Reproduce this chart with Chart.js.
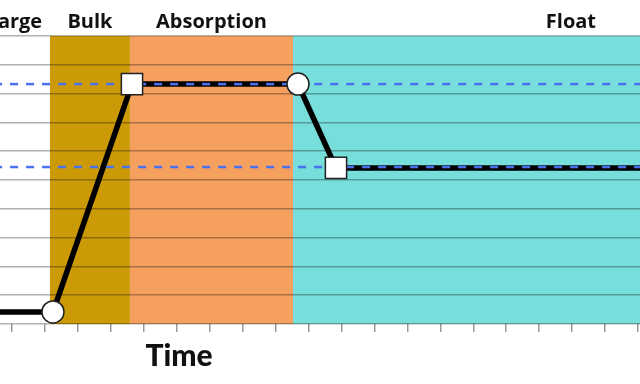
<!DOCTYPE html>
<html>
<head>
<meta charset="utf-8">
<script src="https://cdn.jsdelivr.net/npm/chart.js@4/dist/chart.umd.min.js"></script>
<style>
  html, body { margin: 0; padding: 0; background: #ffffff; }
  canvas { display: block; }
</style>
</head>
<body>
<canvas id="grafica" width="640" height="384"></canvas>
<script>
// charging stages (x in time units)
const bandNames = ["Charge", "Bulk", "Absorption", "Float"];
const bandStart = [-1.45, 1.153, 3.58, 8.53];
const bandEnd = [1.153, 3.58, 8.53, 25.4];
const bandColors = ["#ffffff", "#cc9a06", "#f5a05f", "#77dedb"];

// voltage profile
const timeX = [-1, 1.244, 3.642, 8.68, 9.834, 21];
const voltage = [0.42, 0.42, 8.33, 8.33, 5.42, 5.42];
const markerStyle = [null, "circle", "rect", "circle", "rect", null];

// reference levels (dashed)
const levels = [8.33, 5.45];

const xTicks = [0, 1, 2, 3, 4, 5, 6, 7, 8, 9, 10, 11, 12, 13, 14, 15, 16, 17, 18, 19];
const yTicks = [0, 1, 2, 3, 4, 5, 6, 7, 8, 9, 10];
const axisTitle = "Time";

const perfil = timeX.map((x, i) => ({ x: x, y: voltage[i] }));
const marcadores = timeX
    .map((x, i) => ({ x: x, y: voltage[i], style: markerStyle[i] }))
    .filter(p => p.style);

const lineasNivel = levels.map(v => ({
    data: [{ x: -2, y: v }, { x: 30, y: v }],
    borderColor: "#4a72ee",
    borderWidth: 2.5,
    borderDash: [8, 8],
    pointRadius: 0,
    order: 1
}));

const bandas = {
    id: "bandas",
    beforeDraw(chart) {
        const { ctx, chartArea, scales } = chart;
        ctx.save();
        bandNames.forEach((n, i) => {
            const x0 = scales.x.getPixelForValue(bandStart[i]);
            const x1 = scales.x.getPixelForValue(bandEnd[i]);
            ctx.fillStyle = bandColors[i];
            ctx.fillRect(x0, chartArea.top, x1 - x0, chartArea.bottom - chartArea.top);
        });
        ctx.restore();
    },
    afterDraw(chart) {
        const { ctx, scales } = chart;
        ctx.save();
        ctx.fillStyle = "#111111";
        ctx.textAlign = "center";
        ctx.textBaseline = "alphabetic";
        ctx.font = "bold 20px 'Open Sans'";
        bandNames.forEach((n, i) => {
            const xc = scales.x.getPixelForValue((bandStart[i] + bandEnd[i]) / 2);
            ctx.fillText(n, xc, 28);
        });
        ctx.font = "900 30px Lato";
        ctx.fillText(axisTitle, 179, 366);
        ctx.restore();
    }
};

new Chart(document.getElementById("grafica").getContext("2d"), {
    type: "line",
    data: {
        datasets: [
            {
                data: marcadores,
                showLine: false,
                pointStyle: marcadores.map(p => p.style),
                pointRadius: marcadores.map(p => p.style === "rect" ? 15 : 11),
                pointBackgroundColor: "#ffffff",
                pointBorderColor: "#222222",
                pointBorderWidth: 1.5,
                order: 0
            },
            ...lineasNivel,
            {
                data: perfil,
                borderColor: "#000000",
                borderWidth: 5.5,
                pointRadius: 0,
                tension: 0,
                order: 2
            }
        ]
    },
    options: {
        responsive: false,
        animation: false,
        devicePixelRatio: 1,
        layout: { autoPadding: false, padding: { top: 36, left: 0, right: 0, bottom: 0 } },
        plugins: { legend: { display: false }, tooltip: { enabled: false } },
        scales: {
            x: {
                type: "linear",
                min: -0.364,
                max: 19.061,
                afterBuildTicks: s => { s.ticks = xTicks.map(v => ({ value: v })); },
                afterFit: s => { s.height = 60; },
                ticks: { display: false },
                grid: { drawOnChartArea: false, drawTicks: true, tickLength: 8, color: "#9a9a9a", lineWidth: 1.5 },
                border: { display: false }
            },
            y: {
                min: 0,
                max: 10,
                afterBuildTicks: s => { s.ticks = yTicks.map(v => ({ value: v })); },
                afterFit: s => { s.width = 0; },
                ticks: { display: false },
                grid: { color: "rgba(0,0,0,0.3)", lineWidth: 1.5, drawTicks: false },
                border: { display: false }
            }
        }
    },
    plugins: [bandas]
});
</script>
</body>
</html>
